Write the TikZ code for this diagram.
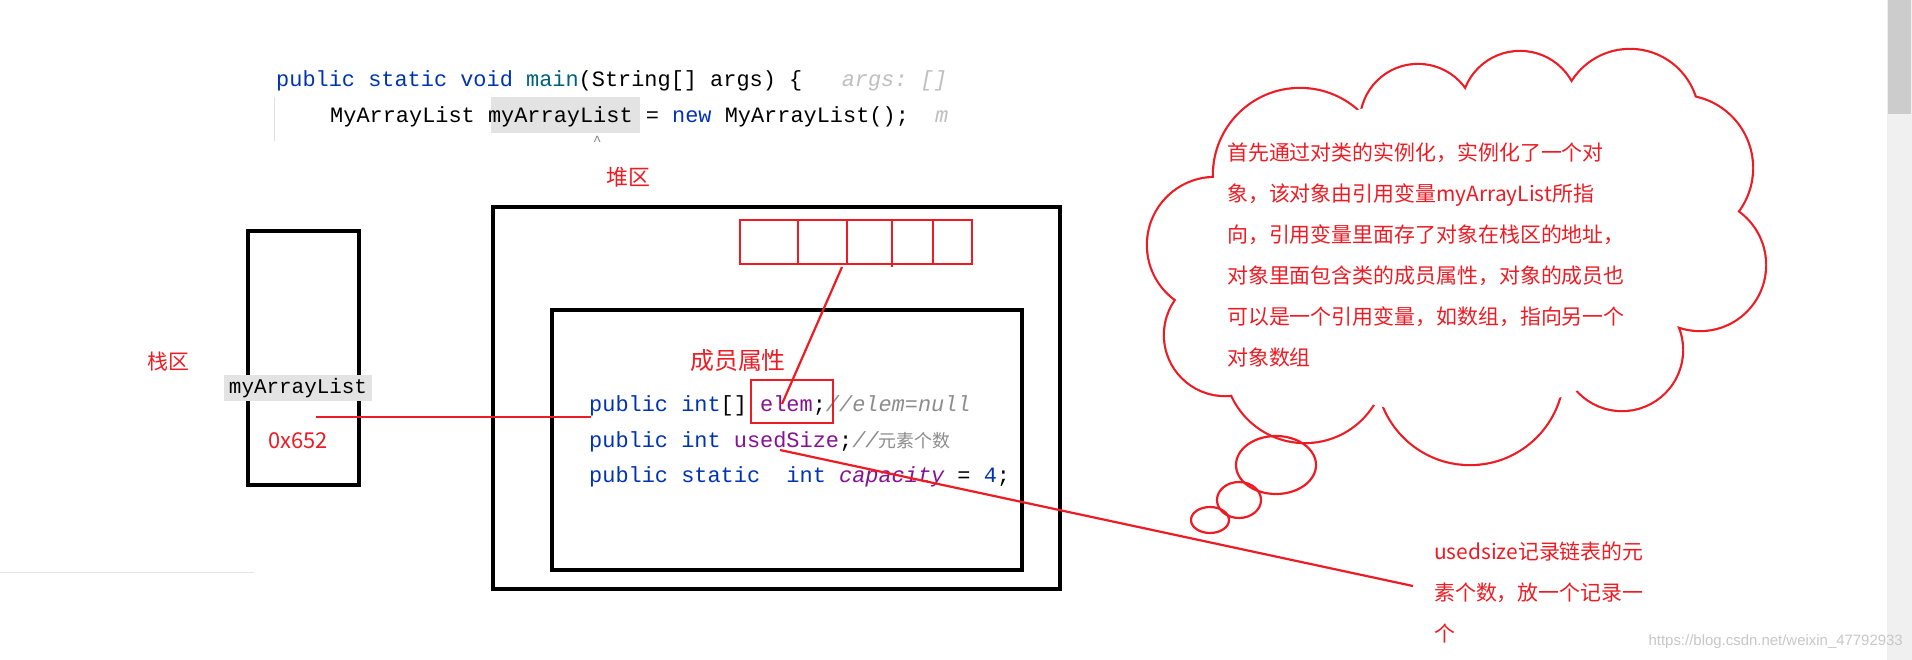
\documentclass[tikz,border=0pt]{standalone}
\usepackage{fontspec}
\setmonofont{Liberation Mono}
\newfontfamily\cjk{Noto Sans CJK SC}
\definecolor{kw}{HTML}{0033B3}
\definecolor{fn}{HTML}{00627A}
\definecolor{fld}{HTML}{871094}
\definecolor{cmt}{HTML}{8C8C8C}
\definecolor{rd}{HTML}{ED1C24}
\begin{document}
\begin{tikzpicture}[x=1bp,y=-1bp,
  code/.style={anchor=west,inner sep=0,font=\ttfamily\fontsize{22}{22}\selectfont},
  rtext/.style={anchor=west,inner sep=0,text=rd,font=\cjk\fontsize{24}{24}\selectfont},
  blk/.style={draw=black,line width=3.5bp},
  rline/.style={draw=rd,line width=2.2bp}]
\useasboundingbox (0,0) rectangle (1912,660);
\fill[white] (0,0) rectangle (1912,660);
% scrollbar
\fill[black!6] (1887,0) rectangle (1912,660);
\fill[black!20] (1888,0) rectangle (1911,114);
% code header
\fill[black!11] (491,97) rectangle (640,133);
\draw[black!12] (274,97) -- (274,141);
\draw[black!10,line width=1bp] (0,572) -- (254,572);
\node[code] (c1) at (276,81) {\textcolor{kw}{public static void} \textcolor{fn}{main}(String[] args) \{ \ \ \textcolor{black!25}{\itshape args: []}};
\node[code] (c2) at (330,117) {MyArrayList myArrayList = \textcolor{kw}{new} MyArrayList();\ \ \textcolor{black!25}{\itshape m}};
\node[code,text=black!50,font=\ttfamily\fontsize{14}{14}\selectfont] (caret) at (593,141) {\^{}};
% labels
\node[rtext,font=\cjk\fontsize{22}{22}\selectfont] (heapl) at (606,177) {堆区};
\node[rtext,font=\cjk\fontsize{21}{21}\selectfont] (stackl) at (147,362) {栈区};
% stack
\draw[blk] (248,231) rectangle (359,485);
\node[fill=black!11,inner sep=0,minimum width=148bp,minimum height=26bp,font=\ttfamily\fontsize{21}{21}\selectfont] (var) at (298,388) {myArrayList};
\node[rtext,anchor=center,font=\cjk\fontsize{22}{22}\selectfont] (addr) at (298,441) {0x652};
% heap
\draw[blk] (493,207) rectangle (1060,589);
\draw[blk] (552,310) rectangle (1022,570);
\draw[rline] (740,220) rectangle (972,264);
\foreach \x in {798,847,933} \draw[rline] (\x,220) -- (\x,264);
\draw[rline] (892,220) -- (892,267);
\node[rtext,font=\cjk\fontsize{24}{24}\selectfont] (membl) at (690,360) {成员属性};
\node[code] (f1) at (589,406) {\textcolor{kw}{public int}[] \textcolor{fld}{elem};\textcolor{cmt}{\itshape //elem=null}};
\node[code] (f2) at (589,442) {\textcolor{kw}{public int} \textcolor{fld}{usedSize};\textcolor{cmt}{\itshape //{\cjk\fontsize{18}{18}\selectfont 元素个数}}};
\node[code] (f3) at (589,477) {\textcolor{kw}{public static \ int} \textcolor{fld}{\itshape capacity} = \textcolor{kw}{4};};
\draw[rline] (751,380) rectangle (833,423);
\coordinate (arrb) at (842,267);
\coordinate (elemp) at (782,404);
\draw[rline] (arrb) -- (elemp);
\coordinate (va) at (316,417);
\coordinate (vb) at (591,417);
\draw[rline] (va) -- (vb);
\coordinate (us) at (780,450);
\coordinate (ue) at (1413,586);
\draw[rline] (us) -- (ue);
% cloud
\def\lobes{(1300,175) circle (86) (1418,122) circle (57) (1520,110) circle (58) (1630,118) circle (68) (1680,168) circle (72) (1700,265) circle (65) (1622,350) circle (60) (1470,371) circle (93) (1305,362) circle (80) (1225,335) circle (60) (1215,245) circle (67)}
\draw[draw=rd,line width=4.4bp] \lobes;
\fill[white] \lobes;
\fill[white] (1455,255) ellipse (230 and 160);
\draw[rline] (1276,465) ellipse (40 and 29);
\draw[rline] (1239,500) ellipse (22 and 18);
\draw[rline] (1210,520) ellipse (19 and 13);
\node[rtext,align=left,anchor=north west,font=\cjk\fontsize{21}{41}\selectfont] (cloudt) at (1227,143) {首先通过对类的实例化，实例化了一个对\\象，该对象由引用变量myArrayList所指\\向，引用变量里面存了对象在栈区的地址，\\对象里面包含类的成员属性，对象的成员也\\可以是一个引用变量，如数组，指向另一个\\对象数组};
\node[rtext,align=left,anchor=north west,font=\cjk\fontsize{21}{41}\selectfont] (usedt) at (1434,542) {usedsize记录链表的元\\素个数，放一个记录一\\个};
\node[anchor=east,inner sep=0,text=black!22,font=\fontspec{Liberation Sans}\fontsize{15}{15}\selectfont] (wm) at (1903,642) {https://blog.csdn.net/weixin\_47792933};
\end{tikzpicture}
\end{document}
